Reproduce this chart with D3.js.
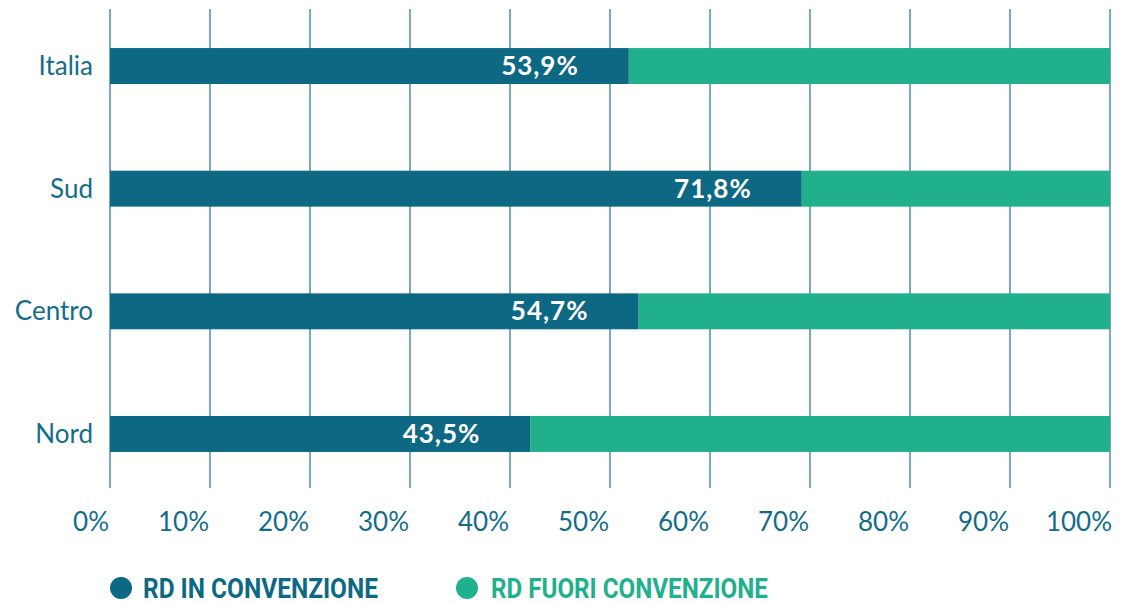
<!DOCTYPE html>
<html>
<head>
<meta charset="utf-8">
<script src="https://cdn.jsdelivr.net/npm/d3@7"></script>
<style>
  body { margin: 0; background: #fff; }
  svg { display: block; font-family: Lato, "Open Sans", sans-serif; }
</style>
</head>
<body>
<div id="chart"></div>
<script>
// data
const categories = ["Italia", "Sud", "Centro", "Nord"];
const inConvenzione = [53.9, 71.8, 54.7, 43.5];
// the green part is drawn a bit longer than 100 - value in the original
const fuoriConvenzione = [50.0, 32.0, 48.8, 60.0];
const ticks = [0, 10, 20, 30, 40, 50, 60, 70, 80, 90, 100];
const legendLabels = ["RD IN CONVENZIONE", "RD FUORI CONVENZIONE"];

const blue = "#0d6884";
const green = "#20b08c";
const textBlue = "#136d89";
const gridCol = "#4a8ea6";

const width = 1131, height = 603;

const svg = d3.select("#chart").append("svg")
    .attr("width", width)
    .attr("height", height);

const x = d3.scaleLinear().domain([0, 100]).range([110, 1110]);
const y = d3.scaleBand().domain(categories)
    .range([4.7, 495.3])
    .paddingInner(0.707)
    .paddingOuter(0.3535);

// gridlines
svg.append("g")
  .selectAll("line")
  .data(ticks)
  .enter().append("line")
    .attr("x1", d => x(d)).attr("x2", d => x(d))
    .attr("y1", 9).attr("y2", 488)
    .attr("stroke", gridCol)
    .attr("stroke-width", 1.5);

// tick labels (sit just left of their line)
svg.append("g")
  .selectAll("text")
  .data(ticks)
  .enter().append("text")
    .attr("x", d => x(d) + (d === 100 ? 2 : -1))
    .attr("y", 531)
    .attr("text-anchor", "end")
    .attr("font-size", 26)
    .attr("fill", textBlue)
    .text(d => d + "%");

const rows = categories.map((c, i) => {
  const total = inConvenzione[i] + fuoriConvenzione[i];
  return { cat: c, a: inConvenzione[i], share: inConvenzione[i] / total * 100 };
});

// green (full) bars
svg.append("g")
  .selectAll("rect")
  .data(rows)
  .enter().append("rect")
    .attr("x", d => x(d.share))
    .attr("y", d => y(d.cat))
    .attr("width", d => x(100) - x(d.share))
    .attr("height", y.bandwidth())
    .attr("fill", green);

// blue bars
svg.append("g")
  .selectAll("rect")
  .data(rows)
  .enter().append("rect")
    .attr("x", x(0))
    .attr("y", d => y(d.cat))
    .attr("width", d => x(d.share) - x(0))
    .attr("height", y.bandwidth())
    .attr("fill", blue);

// value labels
svg.append("g")
  .selectAll("text")
  .data(rows)
  .enter().append("text")
    .attr("x", d => x(d.share) - 50)
    .attr("y", d => y(d.cat) + y.bandwidth() / 2 + 9)
    .attr("text-anchor", "end")
    .attr("font-size", 26)
    .attr("font-weight", "bold")
    .attr("letter-spacing", 1)
    .attr("fill", "#fff")
    .text(d => d3.format(".1f")(d.a).replace(".", ",") + "%");

// category labels
svg.append("g")
  .selectAll("text")
  .data(categories)
  .enter().append("text")
    .attr("x", 93)
    .attr("y", d => y(d) + y.bandwidth() / 2 + 9)
    .attr("text-anchor", "end")
    .attr("font-size", 26)
    .attr("fill", textBlue)
    .text(d => d);

// legend - condensed look by squeezing the text horizontally
const legend = [
  { label: legendLabels[0], color: blue, cx: 121, tx: 143, len: 235 },
  { label: legendLabels[1], color: green, cx: 467, tx: 491, len: 277 }
];
const lg = svg.append("g").selectAll("g").data(legend).enter().append("g");
lg.append("circle")
    .attr("cx", d => d.cx).attr("cy", 588).attr("r", 11)
    .attr("fill", d => d.color);
lg.append("text")
    .attr("x", 0)
    .attr("y", 598)
    .attr("font-size", 27)
    .attr("font-weight", "bold")
    .attr("font-family", "Roboto, sans-serif")
    .attr("fill", d => d.color)
    .text(d => d.label)
    .attr("transform", function(d) {
      const w = this.getComputedTextLength();
      return `translate(${d.tx},0) scale(${d.len / w},1)`;
    });
</script>
</body>
</html>
